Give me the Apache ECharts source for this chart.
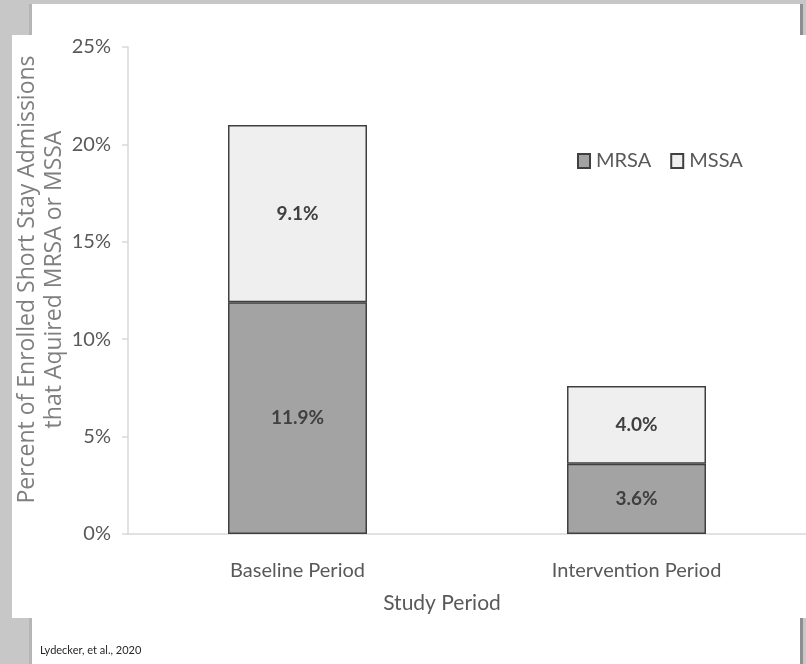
<!DOCTYPE html>
<html>
<head>
<meta charset="utf-8">
<script src="https://cdn.jsdelivr.net/npm/echarts@6/dist/echarts.min.js"></script>
<style>
  html, body { margin: 0; padding: 0; background: #c6c7c6; }
  #stage { position: relative; width: 806px; height: 664px; overflow: hidden; }
  .panel { position: absolute; background: #ffffff; }
  .edge { position: absolute; background: #8e8e8e; }
  #chart { position: absolute; left: 0; top: 0; width: 806px; height: 664px; }
</style>
</head>
<body>
<div id="stage">
  <!-- slide page behind the figure -->
  <div class="edge" style="left:29px; top:4px; width:3px; height:660px; background:#b4b5b4;"></div>
  <div class="panel" style="left:32px; top:4px; width:768px; height:660px;"></div>
  <div class="edge" style="left:800px; top:4px; width:3px; height:660px;"></div>
  <!-- figure panel -->
  <div class="panel" style="left:12px; top:35px; width:794px; height:583px;"></div>
  <div id="chart"></div>
</div>
<script>
// Study periods on the x axis
const categories = ['Baseline Period', 'Intervention Period'];
// Percent of enrolled short-stay admissions acquiring each organism
const mrsaValues = [11.9, 3.6];
const mssaValues = [9.1, 4.0];
// Y axis range (percent)
const yMin = 0;
const yMax = 25;
const yStep = 5;

const narrowFont = 'Lato, "Open Sans", sans-serif';
const barBorder = '#404040';

const chart = echarts.init(document.getElementById('chart'), null, { renderer: 'canvas' });

const segmentLabel = {
  show: true,
  position: 'inside',
  color: '#404040',
  fontFamily: narrowFont,
  fontWeight: 'bold',
  fontSize: 19,
  formatter: p => p.value.toFixed(1) + '%'
};

chart.setOption({
  backgroundColor: 'transparent',
  animation: false,
  grid: { left: 128, right: -13, top: 47, bottom: 130, containLabel: false },
  legend: {
    left: 572,
    top: 146,
    icon: 'rect',
    itemWidth: 12,
    itemHeight: 14,
    itemGap: 19,
    textStyle: { color: '#595959', fontFamily: narrowFont, fontSize: 20, padding: [0, 0, 0, 1] },
    data: ['MRSA', 'MSSA']
  },
  xAxis: {
    type: 'category',
    data: categories,
    axisLine: { show: true, lineStyle: { color: '#d9d9d9', width: 1.5 } },
    axisTick: { show: false },
    axisLabel: { color: '#595959', fontFamily: narrowFont, fontSize: 20, margin: 27 },
    name: 'Study Period',
    nameLocation: 'middle',
    nameGap: 59,
    nameMoveOverlap: false,
    nameTextStyle: { color: '#595959', fontFamily: narrowFont, fontSize: 21, padding: [0, 50, 0, 0] }
  },
  yAxis: {
    type: 'value',
    min: yMin,
    max: yMax,
    interval: yStep,
    splitLine: { show: false },
    axisLine: { show: true, lineStyle: { color: '#d9d9d9', width: 1.5 } },
    axisTick: { show: true, length: 6, lineStyle: { color: '#d9d9d9', width: 1.5 } },
    axisLabel: { color: '#595959', fontFamily: narrowFont, fontSize: 20, margin: 17, formatter: '{value}%' },
    name: 'Percent of Enrolled Short Stay Admissions\nthat Aquired MRSA or MSSA',
    nameLocation: 'middle',
    nameRotate: 90,
    nameGap: 60,
    nameMoveOverlap: false,
    nameTextStyle: {
      color: '#7f7f7f',
      fontFamily: '"Open Sans", sans-serif',
      fontSize: 23,
      lineHeight: 27,
      align: 'center',
      padding: [0, 0, 0, 22]
    }
  },
  series: [
    {
      name: 'MRSA',
      type: 'bar',
      stack: 'total',
      barWidth: 139,
      data: mrsaValues,
      itemStyle: { color: '#a3a3a3', borderColor: barBorder, borderWidth: 1.5 },
      label: segmentLabel
    },
    {
      name: 'MSSA',
      type: 'bar',
      stack: 'total',
      barWidth: 139,
      data: mssaValues,
      itemStyle: { color: '#efefef', borderColor: barBorder, borderWidth: 1.5 },
      label: segmentLabel
    }
  ],
  graphic: [
    {
      type: 'text',
      left: 40,
      top: 645,
      style: {
        text: 'Lydecker, et al., 2020',
        fill: '#262626',
        font: '11px ' + narrowFont
      }
    }
  ]
});
</script>
</body>
</html>
